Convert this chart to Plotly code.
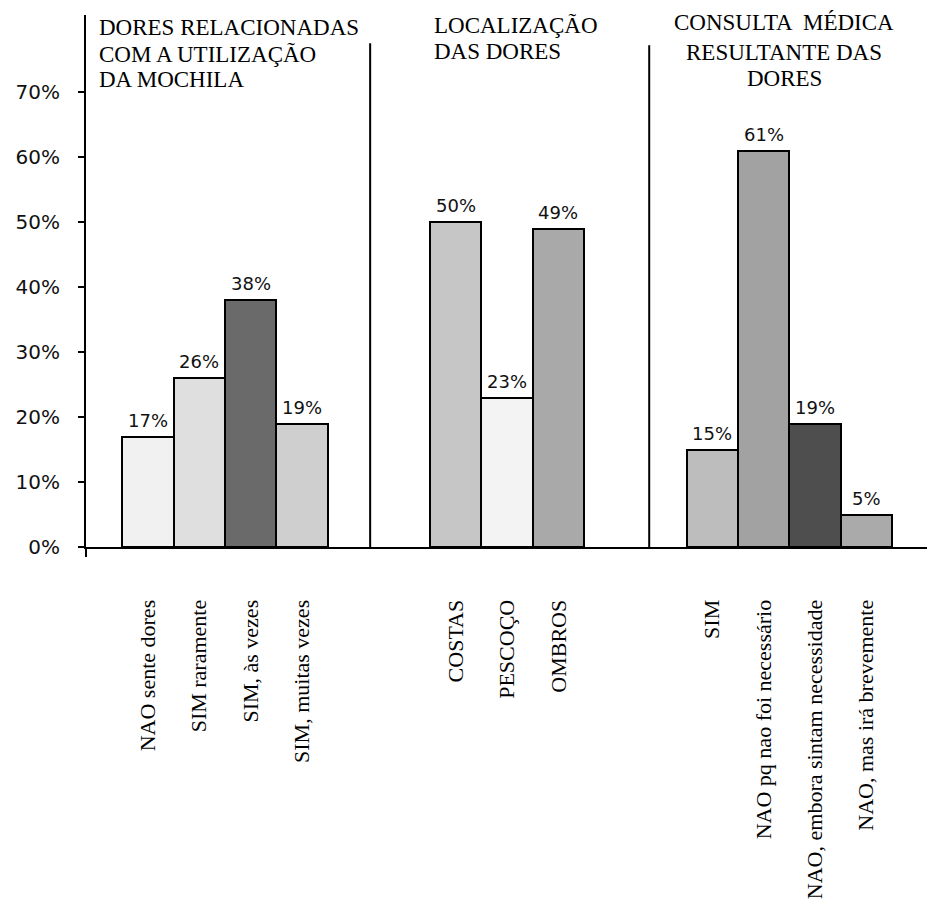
import plotly.graph_objects as go

# --- data -----------------------------------------------------------------
dores_labels = ["NAO sente dores", "SIM raramente", "SIM, às vezes", "SIM, muitas vezes"]
dores_values = [17, 26, 38, 19]

local_labels = ["COSTAS", "PESCOÇO", "OMBROS"]
local_values = [50, 23, 49]

consulta_labels = ["SIM", "NAO pq nao foi necessário", "NAO, embora sintam necessidade",
                   "NAO, mas irá brevemente"]
consulta_values = [15, 61, 19, 5]

group_titles = [
    ["DORES RELACIONADAS", "COM A UTILIZAÇÃO", "DA MOCHILA"],
    ["LOCALIZAÇÃO", "DAS DORES"],
    ["CONSULTA  MÉDICA", "RESULTANTE DAS", "DORES"],
]

y_tick_values = [0, 10, 20, 30, 40, 50, 60, 70]
y_tick_labels = ["0%", "10%", "20%", "30%", "40%", "50%", "60%", "70%"]

# --- styling ----------------------------------------------------------------
dores_colors = ["#f1f1f1", "#dfdfdf", "#6a6a6a", "#cfcfcf"]
local_colors = ["#c6c6c6", "#f3f3f3", "#a9a9a9"]
consulta_colors = ["#bdbdbd", "#a2a2a2", "#4e4e4e", "#aaaaaa"]

SERIF = "Times New Roman, Liberation Serif, serif"

# first slot of each group along the numeric x axis (gaps between groups)
group_start = [0, 6, 11]
groups = [
    (dores_labels, dores_values, dores_colors),
    (local_labels, local_values, local_colors),
    (consulta_labels, consulta_values, consulta_colors),
]

fig = go.Figure()
tick_pos, tick_text, annotations = [], [], []

for start, (labels, values, colors) in zip(group_start, groups):
    xs = [start + i for i in range(len(values))]
    fig.add_trace(go.Bar(
        x=xs, y=values, width=1.0,
        marker=dict(color=colors, line=dict(color="black", width=2)),
        showlegend=False, hoverinfo="skip",
    ))
    tick_pos += xs
    tick_text += labels
    for x, v in zip(xs, values):
        annotations.append(dict(
            x=x, y=v, xref="x", yref="y", text=f"{v}%", showarrow=False,
            yanchor="bottom", yshift=4,
            font=dict(family="DejaVu Sans", size=18, color="#111"),
        ))

# group headings, one annotation per line
title_layout = [
    dict(x=0.013, xanchor="left", ys=[0.9765, 0.925, 0.878]),
    dict(x=0.411, xanchor="left", ys=[0.980, 0.931]),
    dict(x=0.830, xanchor="center", ys=[0.986, 0.9295, 0.8806]),
]
for lines, spec in zip(group_titles, title_layout):
    for line, y in zip(lines, spec["ys"]):
        annotations.append(dict(
            x=spec["x"], y=y, xref="paper", yref="paper", text=line,
            showarrow=False, xanchor=spec["xanchor"], yanchor="middle",
            font=dict(family=SERIF, size=23, color="black"),
        ))

# group separators and the short extension of the value axis below zero
shapes = [
    dict(type="line", xref="x", yref="y", x0=4.33, x1=4.33, y0=0, y1=77.5,
         line=dict(color="black", width=2)),
    dict(type="line", xref="x", yref="y", x0=9.77, x1=9.77, y0=0, y1=77.2,
         line=dict(color="black", width=2)),
    dict(type="line", xref="paper", yref="paper", x0=0, x1=0, y0=0, y1=-0.019,
         line=dict(color="black", width=2)),
]

fig.update_layout(
    width=935, height=913, autosize=False,
    margin=dict(l=86, r=8, t=15, b=366),
    paper_bgcolor="white", plot_bgcolor="white",
    bargap=0,
    annotations=annotations,
    shapes=shapes,
    xaxis=dict(
        range=[-1.209, 15.185],
        tickmode="array", tickvals=tick_pos, ticktext=tick_text,
        tickangle=-90, ticks="",
        tickfont=dict(family=SERIF, size=22, color="black"),
        ticklabelstandoff=42,
        showline=True, linecolor="black", linewidth=2,
        showgrid=False, zeroline=False,
    ),
    yaxis=dict(
        range=[0, 81.85],
        tickmode="array", tickvals=y_tick_values, ticktext=y_tick_labels,
        ticks="outside", ticklen=6, tickwidth=2, tickcolor="black",
        tickfont=dict(family="DejaVu Sans", size=20, color="#111"),
        ticklabelstandoff=14,
        showline=True, linecolor="black", linewidth=2,
        showgrid=False, zeroline=False,
    ),
)

fig.write_html("out.html")
